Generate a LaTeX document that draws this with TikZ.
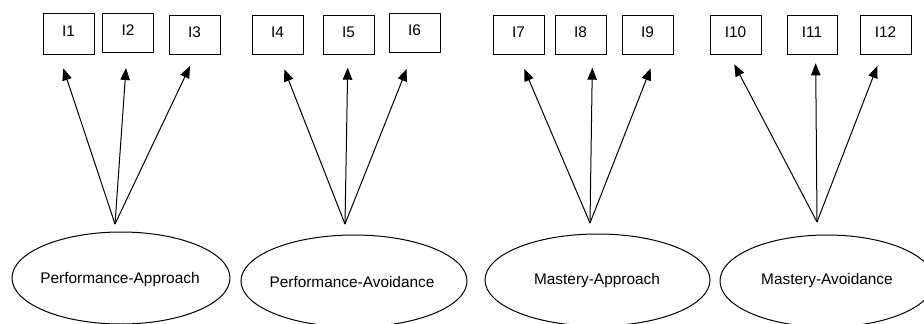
\documentclass[tikz,border=0pt]{standalone}
\usepackage{fontspec}
\setmainfont{Liberation Sans}
\usetikzlibrary{arrows.meta}
\begin{document}
\begin{tikzpicture}[x=1pt,y=-1pt,
  every node/.style={font=\fontsize{15.4}{18}\selectfont},
  itembox/.style={draw,line width=1pt,minimum width=51pt,minimum height=39pt,inner sep=0pt,text depth=5pt},
  factor/.style={inner sep=0pt},
  ell/.style={line width=1pt},
  load/.style={line width=1pt,-{Triangle[length=12pt,width=9.5pt]}}]
\useasboundingbox (0,0) rectangle (924,324);
% item boxes
\node[itembox,minimum height=41pt] (I1) at (68.5,33.5) {I1};
\node[itembox] (I2) at (128,32.5) {I2};
\node[itembox] (I3) at (194.5,35) {I3};
\node[itembox] (I4) at (277.5,35) {I4};
\node[itembox] (I5) at (348.5,35) {I5};
\node[itembox] (I6) at (414.5,32.5) {I6};
\node[itembox] (I7) at (518.5,35) {I7};
\node[itembox] (I8) at (580.5,35) {I8};
\node[itembox] (I9) at (647.5,35) {I9};
\node[itembox] (I10) at (735.5,35) {I10};
\node[itembox,minimum width=50pt] (I11) at (812,35) {I11};
\node[itembox] (I12) at (885.5,35) {I12};
% factors
\node[factor] (E1) at (120,280) {Performance-Approach};
\node[factor] (E2) at (352,282) {Performance-Avoidance};
\node[factor] (E3) at (597,281) {Mastery-Approach};
\node[factor] (E4) at (827,281) {Mastery-Avoidance};
\draw[ell] (121,278) ellipse [x radius=109, y radius=46];
\draw[ell] (354,281) ellipse [x radius=113, y radius=46];
\draw[ell] (597.5,280) ellipse [x radius=112.5, y radius=46];
\draw[ell] (827,281) ellipse [x radius=107, y radius=46];
% arrow origins and tips
\coordinate (b1) at (115,224);
\coordinate (b2) at (345,224);
\coordinate (b3) at (590,223);
\coordinate (b4) at (817,222);
\coordinate (t1) at (63.3,68.3);
\coordinate (t2) at (126,68);
\coordinate (t3) at (190,66);
\coordinate (t4) at (284.3,69.3);
\coordinate (t5) at (347.7,67.7);
\coordinate (t6) at (406.7,69);
\coordinate (t7) at (524.3,69);
\coordinate (t8) at (592.3,67.7);
\coordinate (t9) at (650.7,68.3);
\coordinate (t10) at (734.3,64.3);
\coordinate (t11) at (815.7,63.3);
\coordinate (t12) at (877.3,66);
\draw[load] (b1) -- (t1);
\draw[load] (b1) -- (t2);
\draw[load] (b1) -- (t3);
\draw[load] (b2) -- (t4);
\draw[load] (b2) -- (t5);
\draw[load] (b2) -- (t6);
\draw[load] (b3) -- (t7);
\draw[load] (b3) -- (t8);
\draw[load] (b3) -- (t9);
\draw[load] (b4) -- (t10);
\draw[load] (b4) -- (t11);
\draw[load] (b4) -- (t12);
\end{tikzpicture}
\end{document}
